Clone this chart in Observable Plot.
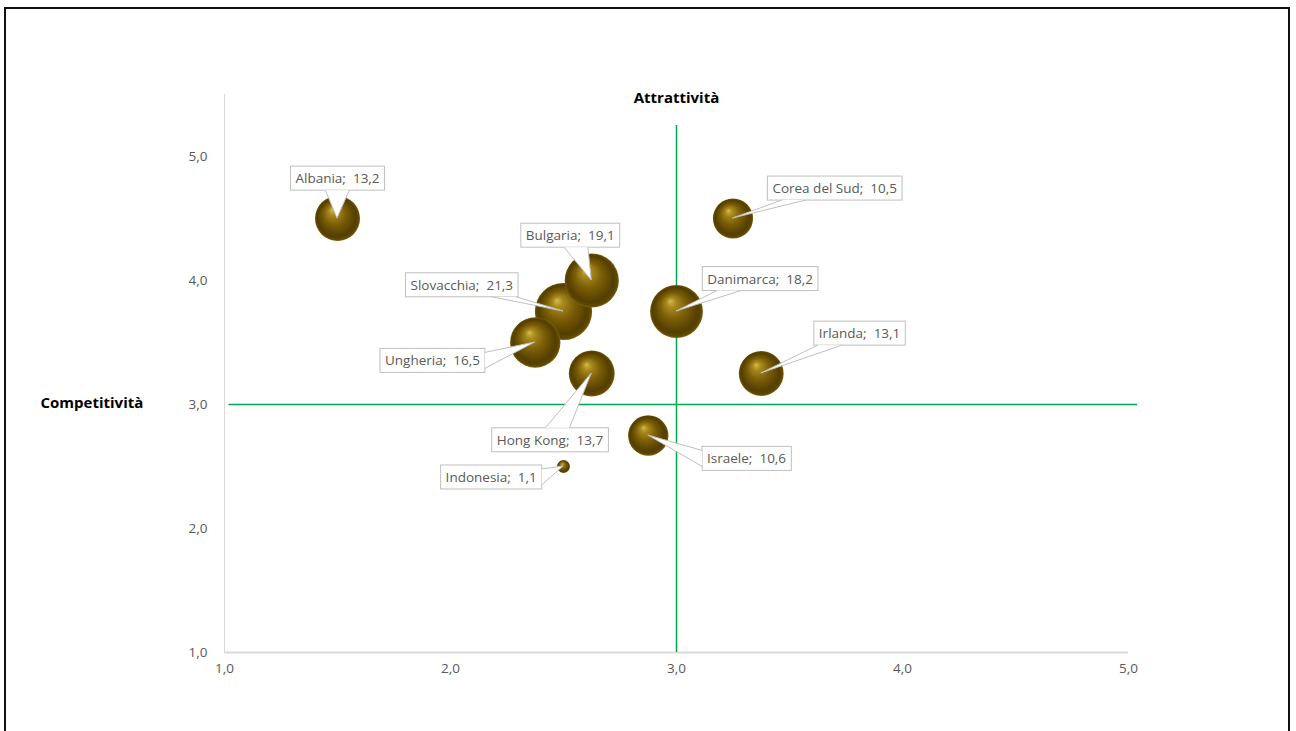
<!DOCTYPE html>
<html>
<head>
<meta charset="utf-8">
<script src="https://cdn.jsdelivr.net/npm/d3@7"></script>
<script src="https://cdn.jsdelivr.net/npm/@observablehq/plot@0.6"></script>
<style>
  html, body { margin: 0; padding: 0; background: #fff; }
  #wrap { position: relative; width: 1296px; height: 731px; overflow: hidden; }
  #frame { position: absolute; left: 4px; top: 7px; width: 1286px; height: 740px; border: 2px solid #111; box-sizing: border-box; pointer-events: none; }
  #chart { position: absolute; left: 0; top: 0; }
</style>
</head>
<body>
<div id="wrap"><div id="chart"></div><div id="frame"></div></div>
<script>
// ---- data ----
const countries = ["Albania", "Corea del Sud", "Bulgaria", "Slovacchia", "Danimarca", "Ungheria", "Irlanda", "Hong Kong", "Israele", "Indonesia"];
const attrattivita = [1.5, 3.25, 2.625, 2.5, 3.0, 2.375, 3.375, 2.625, 2.875, 2.5];
const competitivita = [4.5, 4.5, 4.0, 3.75, 3.75, 3.5, 3.25, 3.25, 2.75, 2.5];
const peso = [13.2, 10.5, 19.1, 21.3, 18.2, 16.5, 13.1, 13.7, 10.6, 1.1];
const xTicks = [1, 2, 3, 4, 5];
const yTicks = [1, 2, 3, 4, 5];
const soglia = 3.0; // quadrant dividers
// data-label anchor positions (in data units), as placed in the original chart
const labelX = [1.50, 3.70, 2.53, 2.05, 3.37, 1.92, 3.81, 2.44, 3.31, 2.18];
const labelY = [4.82, 4.74, 4.36, 3.96, 4.01, 3.35, 3.57, 2.71, 2.56, 2.41];

const fmt = v => v.toFixed(1).replace(".", ",");
const data = countries.map((c, i) => ({
  name: c, x: attrattivita[i], y: competitivita[i], v: peso[i],
  lx: labelX[i], ly: labelY[i], label: `${c};\u00a0 ${fmt(peso[i])}`
}));

const labelFont = "'Open Sans', sans-serif";

const plot = Plot.plot({
  width: 1296, height: 731,
  marginLeft: 224, marginRight: 168, marginTop: 94, marginBottom: 79,
  x: { domain: [1, 5], ticks: xTicks, tickFormat: fmt, tickSize: 0, tickPadding: 11, label: null },
  y: { domain: [1, 5.5], ticks: yTicks, tickFormat: fmt, tickSize: 0, tickPadding: 17, label: null },
  r: { type: "sqrt", domain: [0, 25], range: [0, 31] },
  style: { fontFamily: labelFont, fontSize: "13.5px", color: "#595959", background: "transparent" },
  marks: [
    Plot.ruleX([1], { y1: 1, y2: 5.5, stroke: "#d9d9d9", strokeWidth: 1 }),
    Plot.ruleY([1], { x1: 1, x2: 5, stroke: "#d9d9d9", strokeWidth: 2 }),
    Plot.ruleX([soglia], { y1: 1, y2: 5.25, stroke: "#00a650", strokeWidth: 1.5 }),
    Plot.ruleY([soglia], { x1: 1.02, x2: 5.04, stroke: "#00a650", strokeWidth: 1.5 }),
    Plot.dot(data, { x: "x", y: "y", r: "v", fill: "url(#ball)", stroke: "none" }),
    Plot.text(data, { x: "lx", y: "ly", text: "label", fill: "#595959", fontSize: 13.5, fontFamily: labelFont }),
    Plot.text(["Attrattività"], { frameAnchor: "top", lineAnchor: "middle", dy: 4, fontWeight: "bold", fontSize: 15, fill: "#000" }),
    Plot.text(["Competitività"], { frameAnchor: "left", lineAnchor: "middle", textAnchor: "start", dx: -184, dy: 30, fontWeight: "bold", fontSize: 15, fill: "#000" })
  ]
});

document.getElementById("chart").appendChild(plot);
const svg = d3.select(plot);

// radial gradient for the 3D bubbles
const defs = svg.insert("defs", ":first-child");
const g = defs.append("radialGradient").attr("id", "ball")
  .attr("cx", "0.5").attr("cy", "0.5").attr("r", "0.5").attr("fx", "0.38").attr("fy", "0.3");
[["0%", "#d8bb4c"], ["18%", "#a88a1e"], ["50%", "#7a5d06"], ["85%", "#533e00"], ["95%", "#604803"], ["100%", "#7f650c"]]
  .forEach(([o, c]) => g.append("stop").attr("offset", o).attr("stop-color", c));

// callout boxes + wedge pointers, positioned through Plot's scales
const sx = plot.scale("x"), sy = plot.scale("y");
const px = v => sx.apply ? sx.apply(v) : d3.scaleLinear(sx.domain, sx.range)(v);
const py = v => sy.apply ? sy.apply(v) : d3.scaleLinear(sy.domain, sy.range)(v);

const textGroups = svg.selectAll('g[aria-label="text"]').nodes();
const labelGroup = d3.select(textGroups[0]);
const texts = labelGroup.selectAll("text").nodes();
const callouts = svg.insert("g", () => textGroups[0]).attr("class", "callouts");
const svgCTM = plot.getScreenCTM ? plot.getScreenCTM() : null;

texts.forEach((t, i) => {
  const d = data[i];
  const bb = t.getBBox();
  // map local bbox into svg coordinates
  let m = t.getScreenCTM();
  if (svgCTM && m) m = svgCTM.inverse().multiply(m);
  const pt = (x, y) => m ? [m.a * x + m.c * y + m.e, m.b * x + m.d * y + m.f] : [x, y];
  const [bx0, by0] = pt(bb.x, bb.y);
  const [bx1, by1] = pt(bb.x + bb.width, bb.y + bb.height);
  const padX = 5, h = 24;
  const cx = (bx0 + bx1) / 2, cy = (by0 + by1) / 2;
  const w = (bx1 - bx0) + 2 * padX;
  const x0 = cx - w / 2, x1 = cx + w / 2, y0 = cy - h / 2, y1 = cy + h / 2;
  callouts.append("rect").attr("x", x0).attr("y", y0).attr("width", w).attr("height", h)
    .attr("fill", "#fff").attr("stroke", "#bfbfbf").attr("stroke-width", 1);
  // wedge from box edge to bubble centre
  const ax = px(d.x), ay = py(d.y);
  const dx = ax - cx, dy = ay - cy;
  const tx = dx !== 0 ? (w / 2) / Math.abs(dx) : Infinity;
  const ty = dy !== 0 ? (h / 2) / Math.abs(dy) : Infinity;
  let b1, b2;
  const half = 12;
  if (ty <= tx) {
    const ix = cx + dx * ty, iy = cy + Math.sign(dy) * h / 2;
    const l = Math.max(x0 + 2, Math.min(x1 - 2 - 2 * half, ix - half));
    b1 = [l, iy]; b2 = [l + 2 * half, iy];
  } else {
    const ix = cx + Math.sign(dx) * w / 2, iy = cy + dy * tx;
    b1 = [ix, y0 + 4]; b2 = [ix, y1 - 4];
  }
  callouts.append("path")
    .attr("d", `M${b1[0]},${b1[1]}L${ax},${ay}L${b2[0]},${b2[1]}`)
    .attr("fill", "#fff").attr("stroke", "#bfbfbf").attr("stroke-width", 1);
});
</script>
</body>
</html>
